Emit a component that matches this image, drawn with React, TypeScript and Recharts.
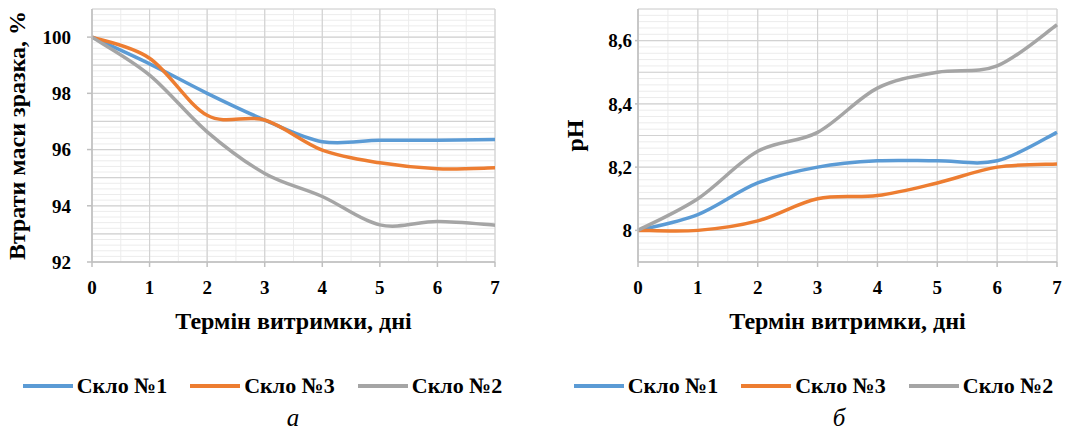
import React from 'react';
import { LineChart, Line, XAxis, YAxis, CartesianGrid, Legend, Label } from 'recharts';

const days = [0, 1, 2, 3, 4, 5, 6, 7];
const seriesNames = ['Скло №1', 'Скло №3', 'Скло №2'];
const seriesColors = ['#5b9bd5', '#ed7d31', '#a5a5a5'];

const mass1 = [100, 99.05, 98.0, 97.05, 96.28, 96.33, 96.33, 96.36];
const mass3 = [100, 99.25, 97.22, 97.05, 95.98, 95.53, 95.32, 95.35];
const mass2 = [100, 98.65, 96.63, 95.15, 94.33, 93.32, 93.44, 93.31];

const ph1 = [8.0, 8.05, 8.15, 8.2, 8.22, 8.22, 8.22, 8.31];
const ph3 = [8.0, 8.0, 8.03, 8.1, 8.11, 8.15, 8.2, 8.21];
const ph2 = [8.0, 8.1, 8.25, 8.31, 8.45, 8.5, 8.52, 8.65];

const massTicks = [92, 94, 96, 98, 100];
const phTicks = [8, 8.2, 8.4, 8.6];

const massData = days.map((d, i) => ({ day: d, s1: mass1[i], s3: mass3[i], s2: mass2[i] }));
const phData = days.map((d, i) => ({ day: d, s1: ph1[i], s3: ph3[i], s2: ph2[i] }));

const range = (a: number, b: number, step: number) => {
  const out: number[] = [];
  const n = Math.round((b - a) / step);
  for (let i = 0; i <= n; i++) out.push(+(a + i * step).toFixed(4));
  return out;
};

// Excel-like smoothed line (cardinal / Catmull-Rom bezier)
const excelSmooth = (ctx: any) => {
  let pts: number[][] = [];
  return {
    areaStart() {},
    areaEnd() {},
    lineStart() { pts = []; },
    point(x: number, y: number) { pts.push([+x, +y]); },
    lineEnd() {
      if (!pts.length) return;
      ctx.moveTo(pts[0][0], pts[0][1]);
      for (let i = 0; i < pts.length - 1; i++) {
        const p0 = pts[i - 1] || pts[i];
        const p1 = pts[i];
        const p2 = pts[i + 1];
        const p3 = pts[i + 2] || p2;
        ctx.bezierCurveTo(
          p1[0] + (p2[0] - p0[0]) / 6, p1[1] + (p2[1] - p0[1]) / 6,
          p2[0] - (p3[0] - p1[0]) / 6, p2[1] - (p3[1] - p1[1]) / 6,
          p2[0], p2[1]
        );
      }
    },
  };
};

const FONT = 'Liberation Serif';
const tickStyle = { fontFamily: FONT, fontWeight: 700, fontSize: 19, fill: '#000' };
const titleStyle = { fontFamily: FONT, fontWeight: 700, fontSize: 24, fill: '#000' };
const axisColor = '#bfbfbf';

const LegendContent = () => (
  <div style={{ display: 'flex', justifyContent: 'center', alignItems: 'center', fontFamily: FONT, fontWeight: 700, fontSize: 22, color: '#000', whiteSpace: 'nowrap' }}>
    {seriesNames.map((n, i) => (
      <div key={n} style={{ display: 'flex', alignItems: 'center', marginRight: i < 2 ? 23 : 0 }}>
        <div style={{ width: 50, height: 4, background: seriesColors[i], marginRight: 4 }} />
        <span>{n}</span>
      </div>
    ))}
  </div>
);

const fmtComma = (v: number) => String(v).replace('.', ',');

export default function App() {
  const keys = ['s1', 's3', 's2'];
  return (
    <div style={{ position: 'absolute', left: 0, top: 0, width: 1068, height: 432, background: '#fff', fontFamily: FONT }}>
      <div style={{ position: 'absolute', left: 0, top: 0 }}>
        <LineChart width={540} height={432} data={massData} margin={{ top: 9, right: 45, left: 0, bottom: 90 }}>
          <CartesianGrid stroke="#ececec" horizontalValues={range(92, 101, 0.2)} verticalValues={range(0, 7, 0.5)} />
          <CartesianGrid stroke="#d2d2d2" strokeWidth={1.2} horizontalValues={range(92, 101, 1)} verticalValues={range(0, 7, 1)} />
          <XAxis dataKey="day" type="number" domain={[0, 7]} ticks={days} interval={0} height={80}
            tick={tickStyle} stroke={axisColor} strokeWidth={1.5} tickSize={5} tickMargin={14}>
            <Label value="Термін витримки, дні" position="insideTop" offset={50} style={titleStyle} />
          </XAxis>
          <YAxis type="number" domain={[92, 101]} ticks={massTicks} interval={0} width={92}
            tick={tickStyle} stroke={axisColor} strokeWidth={1.5} tickSize={5} tickMargin={16}>
            <Label value="Втрати маси зразка, %" angle={-90} position="insideLeft" offset={23} dx={-7}
              style={{ ...titleStyle, textAnchor: 'middle' }} />
          </YAxis>
          {keys.map((k, i) => (
            <Line key={k} dataKey={k} name={seriesNames[i]} type={excelSmooth as any} stroke={seriesColors[i]}
              strokeWidth={3.5} dot={false} activeDot={false} isAnimationActive={false} />
          ))}
          <Legend verticalAlign="middle" align="center" layout="horizontal" content={<LegendContent />}
            wrapperStyle={{ top: 373, left: 0, width: 525, height: 26 }} />
        </LineChart>
      </div>
      <div style={{ position: 'absolute', left: 540, top: 0 }}>
        <LineChart width={528} height={432} data={phData} margin={{ top: 9, right: 11, left: 0, bottom: 90 }}>
          <CartesianGrid stroke="#ececec" horizontalValues={range(7.9, 8.7, 0.02)} verticalValues={range(0, 7, 0.5)} />
          <CartesianGrid stroke="#d2d2d2" strokeWidth={1.2} horizontalValues={range(7.9, 8.7, 0.1)} verticalValues={range(0, 7, 1)} />
          <XAxis dataKey="day" type="number" domain={[0, 7]} ticks={days} interval={0} height={80}
            tick={tickStyle} stroke={axisColor} strokeWidth={1.5} tickSize={5} tickMargin={14}>
            <Label value="Термін витримки, дні" position="insideTop" offset={50} style={titleStyle} />
          </XAxis>
          <YAxis type="number" domain={[7.9, 8.7]} ticks={phTicks} interval={0} width={98}
            tick={tickStyle} stroke={axisColor} strokeWidth={1.5} tickSize={3} tickMargin={3} tickFormatter={fmtComma}>
            <Label value="pH" angle={-90} position="insideLeft" offset={34}
              style={{ ...titleStyle, textAnchor: 'middle' }} />
          </YAxis>
          {keys.map((k, i) => (
            <Line key={k} dataKey={k} name={seriesNames[i]} type={excelSmooth as any} stroke={seriesColors[i]}
              strokeWidth={3.5} dot={false} activeDot={false} isAnimationActive={false} />
          ))}
          <Legend verticalAlign="middle" align="center" layout="horizontal" content={<LegendContent />}
            wrapperStyle={{ top: 373, left: 10, width: 527, height: 26 }} />
        </LineChart>
      </div>
      <div style={{ position: 'absolute', left: 282, top: 404, width: 22, textAlign: 'center', fontFamily: FONT, fontStyle: 'italic', fontSize: 25 }}>а</div>
      <div style={{ position: 'absolute', left: 828, top: 404, width: 22, textAlign: 'center', fontFamily: FONT, fontStyle: 'italic', fontSize: 25 }}>б</div>
    </div>
  );
}
